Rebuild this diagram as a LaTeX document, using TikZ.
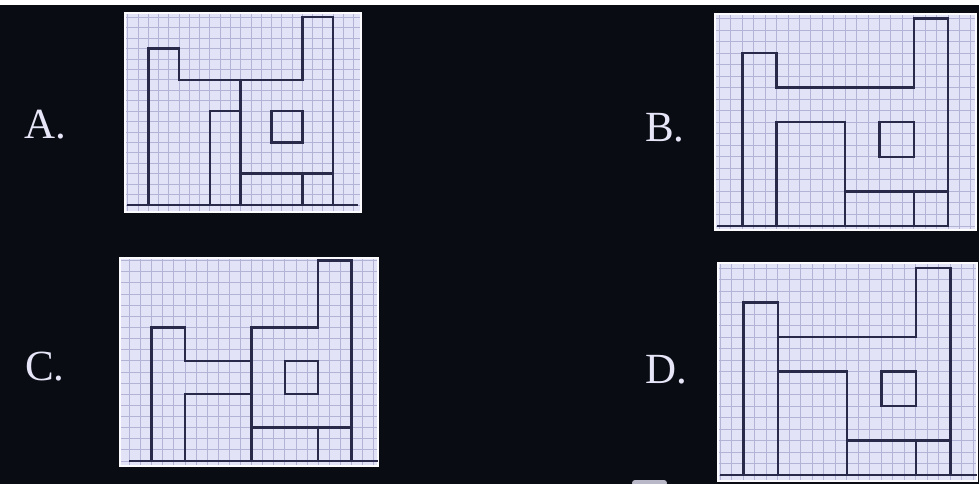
\documentclass[tikz,border=0pt]{standalone}
\usepackage{fontspec}
\setmainfont{Liberation Serif}
\definecolor{bgc}{HTML}{0A0C13}
\definecolor{panelc}{HTML}{E3E3F7}
\definecolor{gridc}{HTML}{B3B3D6}
\definecolor{inkc}{HTML}{29294A}
\definecolor{labelc}{HTML}{E6E6F8}
\tikzset{
  gridline/.style={draw=gridc, line width=0.9pt},
  panelborder/.style={draw=white!85!panelc, line width=1.2pt},
  ink/.style={draw=inkc, line width=2.5pt, line cap=rect, line join=miter},
  optlabel/.style={text=labelc, font=\fontsize{43}{43}\selectfont, anchor=base, inner sep=0pt},
}
% #1 left #2 top #3 right #4 bottom #5 x0 #6 y0 #7 cell x #8 cell y
\newcommand\gridpanel[8]{%
  \fill[panelc] (#1,#2) rectangle (#3,#4);
  \begin{scope}
    \clip (#1,#2) rectangle (#3,#4);
    \foreach \k in {-3,...,21} {\draw[gridline] ({#5+\k*#7},#2) -- ({#5+\k*#7},#4);}
    \foreach \k in {-1,...,19} {\draw[gridline] (#1,{#6-\k*#8}) -- (#3,{#6-\k*#8});}
  \end{scope}
  \draw[panelborder] (#1,#2) rectangle (#3,#4);
}
\begin{document}
\begin{tikzpicture}[x=1pt,y=-1pt]
\useasboundingbox (0,0) rectangle (979,484);
\fill[bgc] (0,0) rectangle (979,484);
\fill[white] (0,0) rectangle (979,5);
% small light shape at the bottom edge
\fill[panelc!80!bgc, rounded corners=3pt] (632,486) -- (632,480) -- (667,480) -- (667,486) -- cycle;

% ---------- Panel A ----------
\gridpanel{125}{13}{361}{212}{148.3}{205}{10.27}{10.43}
\begin{scope}[shift={(148.3,205)}, x=30.8pt, y=31.3pt]
  \draw[ink] (-0.66,0) -- (6.78,0);
  \draw[ink] (0,0) -- (0,5) -- (1,5) -- (1,4) -- (5,4) -- (5,6) -- (6,6) -- (6,0);
  \draw[ink] (3,4) -- (3,0);
  \draw[ink] (2,0) -- (2,3) -- (3,3);
  \draw[ink] (4,2) rectangle (5,3);
  \draw[ink] (3,1) -- (6,1);
  \draw[ink] (5,1) -- (5,0);
\end{scope}

% ---------- Panel B ----------
\gridpanel{715}{14}{976}{230}{742.3}{226}{11.43}{11.53}
\begin{scope}[shift={(742.3,226)}, x=34.3pt, y=34.6pt]
  \draw[ink] (-0.71,0) -- (6,0);
  \draw[ink] (0,0) -- (0,5) -- (1,5) -- (1,4) -- (5,4) -- (5,6) -- (6,6) -- (6,0);
  \draw[ink] (1,0) -- (1,3) -- (3,3) -- (3,0);
  \draw[ink] (4,2) rectangle (5,3);
  \draw[ink] (3,1) -- (6,1);
  \draw[ink] (5,1) -- (5,0);
\end{scope}

% ---------- Panel C ----------
\gridpanel{120}{258}{378}{466}{151.7}{461}{11.1}{11.13}
\begin{scope}[shift={(151.7,461)}, x=33.3pt, y=33.4pt]
  \draw[ink] (-0.65,0) -- (6.75,0);
  \draw[ink] (0,0) -- (0,4) -- (1,4) -- (1,3) -- (3,3);
  \draw[ink] (1,0) -- (1,2) -- (3,2);
  \draw[ink] (3,0) -- (3,4) -- (5,4) -- (5,6) -- (6,6) -- (6,0);
  \draw[ink] (4,2) rectangle (5,3);
  \draw[ink] (3,1) -- (6,1);
  \draw[ink] (5,1) -- (5,0);
\end{scope}

% ---------- Panel D ----------
\gridpanel{718}{263}{977}{481}{743.3}{475}{11.5}{11.5}
\begin{scope}[shift={(743.3,475)}, x=34.5pt, y=34.5pt]
  \draw[ink] (-0.65,0) -- (6.75,0);
  \draw[ink] (0,0) -- (0,5) -- (1,5) -- (1,0);
  \draw[ink] (1,4) -- (5,4) -- (5,6) -- (6,6) -- (6,0);
  \draw[ink] (1,3) -- (3,3) -- (3,0);
  \draw[ink] (4,2) rectangle (5,3);
  \draw[ink] (3,1) -- (6,1);
  \draw[ink] (5,1) -- (5,0);
\end{scope}

% ---------- Labels ----------
\node[optlabel] (la) at (45,139) {A.};
\node[optlabel] (lb) at (665,142) {B.};
\node[optlabel] (lc) at (45,380) {C.};
\node[optlabel] (ld) at (666,383) {D.};
\end{tikzpicture}
\end{document}
